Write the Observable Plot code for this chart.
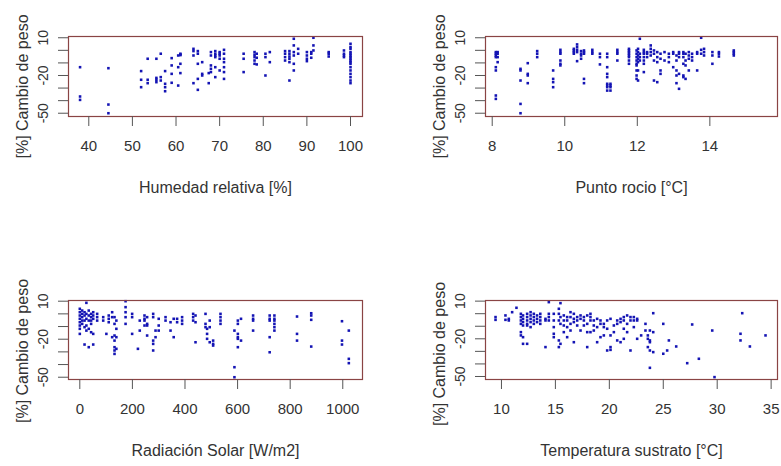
<!DOCTYPE html>
<html>
<head>
<meta charset="utf-8">
<script src="https://cdn.jsdelivr.net/npm/d3@7"></script>
<script src="https://cdn.jsdelivr.net/npm/@observablehq/plot@0.6"></script>
<style>
  html, body { margin: 0; padding: 0; background: #fff; }
  #wrap { position: relative; width: 781px; height: 466px; overflow: hidden; background: #fff; }
  .panel { position: absolute; }
</style>
</head>
<body>
<div id="wrap"></div>
<script>
// ---- shared axis values ----
const yLabel = "[%] Cambio de peso";
const yTicks = [10, 0, -10, -20, -30, -40, -50];
const yTickLabels = [10, -20, -50];

// ---- panel 1: Humedad relativa [%] ----  [x, [y values]]
const humedadLabel = "Humedad relativa [%]";
const humedadTicks = [40, 50, 60, 70, 80, 90, 100];
const humedadGroups = [
  [38, [-13.4, -36.7, -39.4]],
  [44.5, [-14.2, -43.1, -50]],
  [52, [-16.5, -23.4, -29.3]],
  [53.5, [-6.7, -23.4, -26.1]],
  [55.5, [-6.7, -21.9, -23.4, -25.3]],
  [56.5, [-2.7, -21.3, -24.0]],
  [57.5, [-16.5, -26.6, -29.3, -32.5]],
  [59, [-6.2, -12.0, -18.7, -25.8]],
  [60.5, [-4.1, -13.4, -28.0]],
  [61, [-2.7, -3.3, -3.8, -10.7, -18.1]],
  [64, [1.2, -0.6, -4.1, -26.1]],
  [65, [-0.6, -2.7, -10.7, -22.7, -31.4]],
  [66, [-9.4, -18.7, -20.0]],
  [67.5, [-18.1, -26.1]],
  [68, [-1.4, -4.1, -12.0, -14.7, -17.3]],
  [69, [-0.6, -2.7, -4.1, -5.4, -13.4, -21.3]],
  [70, [-1.4, -2.7, -4.1, -6.7, -16.0]],
  [71, [0.4, -2.7, -6.7, -9.4, -13.4, -17.3, -22.7]],
  [75.5, [-2.7, -6.7, -17.3]],
  [78, [-1.4, -3.5, -5.4, -8.1, -10.7]],
  [78.5, [-2.7, -5.9, -11.2]],
  [80.5, [-2.7, -5.4, -20.0]],
  [81.5, [-1.4, -9.4]],
  [85, [-0.6, -2.7, -5.4, -8.1]],
  [86, [-0.6, -2.7, -4.9, -6.7, -9.4, -24.0]],
  [87, [9.2, 3.9, -1.4, -4.1, -10.7, -16.0]],
  [88, [1.2, -2.7]],
  [90, [-1.4, -4.1, -6.7, -8.6]],
  [91, [-1.4, -2.7, -5.9]],
  [91.5, [10, 3.9, -0.1]],
  [95, [-1.4, -2.7, -4.9]],
  [98.5, [-0.1, -2.7, -4.1, -5.4]],
  [100, [5.2, 2.6, 1.2, -1.4, -2.7, -4.1, -5.4, -6.7, -8.1, -9.4, -10.7, -13.4, -16.0, -18.7, -21.3, -24.0, -26.1]]
];

// ---- panel 2: Punto rocio [°C] ----
const rocioLabel = "Punto rocio [°C]";
const rocioTicks = [8, 10, 12, 14];
const rocioGroups = [
  [8.1, [-1.4, -2.7, -4.1, -5.4, -13.4, -16.0, -35.9, -38.6]],
  [8.15, [-1.4, -2.7, -5.4, -9.4]],
  [8.78, [-14.7, -16.0, -24.0, -42.6, -50]],
  [8.98, [-10.2, -18.7, -20.0, -26.1]],
  [9.24, [-0.6, -2.7, -5.4]],
  [9.68, [-16.0, -22.7, -25.3, -29.3]],
  [9.88, [0.4, -1.4, -2.7, -8.1, -10.7, -12.0]],
  [10.25, [1.2, -0.1, -1.4, -2.7]],
  [10.34, [4.7, 2.6, 0.4, -1.4, -8.6]],
  [10.45, [-0.6, -2.7, -4.1, -6.7]],
  [10.53, [-0.1, -1.4, -2.7, -22.7, -26.1]],
  [10.76, [0.4, -1.4, -2.7]],
  [10.97, [-2.7, -5.4, -11.2]],
  [11.17, [-2.7, -5.4, -13.4, -18.7, -21.3, -26.6, -28.0, -29.3, -32.0]],
  [11.26, [-26.6, -28.0, -29.3, -32.0]],
  [11.45, [0.4, -1.4, -2.7, -8.1]],
  [11.77, [1.2, -0.1, -1.4, -2.7, -4.1, -5.4, -8.1, -10.7]],
  [11.98, [-0.1, -2.7, -5.4, -8.1, -10.7, -12.0, -16.0, -20.0, -22.7]],
  [12.02, [1.2, -1.4, -4.1, -6.7, -9.4, -16.0, -24.0]],
  [12.07, [9.2, -2.7, -5.4, -8.1]],
  [12.18, [0.4, -1.4, -2.7, -5.4, -8.1, -10.7, -17.3]],
  [12.27, [-1.4, -2.7, -5.4]],
  [12.37, [3.9, 1.2, -1.4, -4.1]],
  [12.46, [-0.1, -2.7, -8.1, -24.0]],
  [12.55, [-1.4, -5.4, -9.4, -25.3]],
  [12.64, [-2.7, -6.7, -16.0, -18.7]],
  [12.75, [-1.4, -8.1]],
  [12.87, [-2.7, -5.4, -9.4]],
  [12.99, [-1.4, -2.7, -13.4]],
  [13.08, [-4.1, -8.1, -16.0, -20.0, -26.1]],
  [13.15, [-1.4, -2.7, -5.4, -18.7, -30.6]],
  [13.27, [-1.4, -2.7, -5.4, -10.7, -20.0, -21.3]],
  [13.33, [-2.7, -8.1, -12.0, -22.7]],
  [13.42, [-1.4, -4.1, -6.7, -16.0]],
  [13.51, [-2.7, -5.4, -8.1]],
  [13.65, [-1.4, -2.7, -16.0]],
  [13.76, [10, 0.4, -2.7]],
  [13.84, [1.2, -1.4, -4.1]],
  [14.07, [-1.4, -4.1, -10.7]],
  [14.25, [-1.4, -2.7, -4.9]],
  [14.66, [-0.1, -1.4, -2.7, -4.1]]
];

// ---- panel 3: Radiación Solar [W/m2] ----
const radiacionLabel = "Radiación Solar [W/m2]";
const radiacionTicks = [0, 200, 400, 600, 800, 1000];
const radiacionGroups = [
  [0, [4.0, 1.3, -1.3, -3.9, -6.6, -9.2, -11.8, -15.8]],
  [9, [2.6, 0, -2.6, -5.3, -7.9]],
  [18, [1.3, -1.3, -5.3, -10.5, -24.2]],
  [25, [8.7, 0, -3.9, -9.2, -13.2]],
  [34, [2.6, -1.3, -5.3, -11.8, -26.3]],
  [43, [0, -2.6, -5.3, -7.9, -14.5]],
  [51, [1.3, -1.3, -3.9, -15.8, -24.2]],
  [66, [0, -2.6, -5.3]],
  [89, [-2.6, -5.3]],
  [101, [-15.8]],
  [110, [-1.3, -3.9, -6.6]],
  [123, [1.3, -2.6, -18.4]],
  [132, [-2.6, -7.9, -17.1, -21.1, -26.3, -28.9, -31.6]],
  [139, [-5.3, -11.8, -18.4, -27.6]],
  [174, [10, 5.3, 1.3, -2.6, -7.9]],
  [199, [0, -2.6, -15.8]],
  [221, [-27.6]],
  [228, [-5.3, -13.2]],
  [246, [-1.3, -3.9, -5.3, -9.2]],
  [256, [-2.6, -7.9, -9.2, -17.1]],
  [279, [0, -2.6, -21.1, -23.7, -28.9]],
  [288, [-13.2, -18.4]],
  [300, [-3.9, -9.2, -13.2]],
  [326, [-2.6, -5.3]],
  [345, [-6.6, -13.2]],
  [357, [-3.9, -18.4]],
  [370, [-3.9, -6.6]],
  [389, [-2.6, -5.3, -7.9]],
  [431, [0, -2.6, -5.3]],
  [440, [-1.3, -6.6, -22.4]],
  [478, [0, -7.9, -10.5]],
  [484, [-11.8, -15.8, -19.7]],
  [494, [-5.3, -10.5, -22.4]],
  [507, [-21.1, -23.7, -25.0]],
  [535, [0, -2.6, -5.3, -7.9]],
  [588, [-13.2, -42.1, -50]],
  [601, [-5.3, -7.9, -15.8, -18.4, -19.7, -26.3]],
  [613, [-3.9, -21.1]],
  [659, [-1.3, -3.9, -5.3, -13.2]],
  [722, [-1.3, -3.9, -5.3, -18.4, -30.3]],
  [740, [-1.3, -3.9, -5.3, -7.9, -10.5, -13.2]],
  [826, [-2.1, -15.8, -21.1]],
  [880, [0.5, -1.3, -4.7, -25.8]],
  [997, [-5.8, -21.1, -24.2]],
  [1023, [-13.2, -35.5, -38.9]]
];

// ---- panel 4: Temperatura sustrato [°C] ----
const sustratoLabel = "Temperatura sustrato [°C]";
const sustratoTicks = [10, 15, 20, 25, 30, 35];
const sustratoGroups = [
  [9.45, [-2.7, -4.9]],
  [10.37, [-1.4, -4.9]],
  [10.68, [-4.1, -5.4]],
  [10.99, [1.2]],
  [11.39, [4.7]],
  [11.8, [-0.1, -2.7, -5.4, -8.1, -14.7, -17.3]],
  [12.0, [-1.4, -4.1, -6.7, -9.4, -18.7, -24.0]],
  [12.38, [-0.1, -2.7, -5.4, -8.1, -9.4, -24.0]],
  [12.7, [1.2, -1.4, -4.1, -6.7, -10.7]],
  [13.0, [-0.1, -2.7, -5.4, -8.1]],
  [13.3, [-1.4, -4.1, -6.7]],
  [13.6, [-0.1, -2.7, -5.4, -8.1]],
  [14.08, [-4.1, -5.4, -26.6]],
  [14.39, [9.2, -0.1, -2.7, -5.4]],
  [14.85, [-0.1, -5.4, -10.7, -16.0, -18.7]],
  [15.32, [3.9, -0.1, -5.4, -21.3, -26.6]],
  [15.47, [8.4, -2.7, -8.1, -24.0]],
  [15.78, [-1.4, -5.4, -9.4, -14.7]],
  [16.09, [-2.7, -5.4, -10.7, -18.7]],
  [16.4, [1.2, -2.7, -8.1, -13.4]],
  [16.71, [-0.1, -4.1, -6.7, -22.7]],
  [17.02, [-2.7, -5.4, -9.4]],
  [17.33, [-1.4, -4.1, -13.4]],
  [17.64, [-2.7, -5.4, -9.4]],
  [17.95, [-1.4, -8.1, -14.7, -26.6]],
  [18.25, [-0.1, -2.7, -5.4, -14.7]],
  [18.56, [-5.4, -9.4, -13.4]],
  [18.87, [-4.1, -10.7, -22.7]],
  [19.18, [-5.4, -8.1, -18.7]],
  [19.49, [-8.1, -10.7, -17.3]],
  [19.8, [-5.4, -12.0, -29.3]],
  [20.11, [-4.1, -17.3, -26.6, -28.8]],
  [20.42, [-9.4, -14.7]],
  [20.73, [-5.4, -8.1, -21.3]],
  [21.04, [-4.1, -6.7, -22.7]],
  [21.34, [-2.7, -5.4, -12.0, -20.0]],
  [21.65, [-1.4, -8.1, -14.7]],
  [21.96, [-2.7, -5.4, -29.3]],
  [22.27, [-2.7, -5.4, -10.7]],
  [22.58, [-4.1, -5.4, -20.0]],
  [22.95, [-17.3]],
  [23.35, [-8.1, -13.4]],
  [23.57, [-17.3, -20.0, -26.6]],
  [23.76, [-13.4, -21.3, -22.7, -29.3, -43.1]],
  [24.07, [0.4, -14.7, -30.6]],
  [25.0, [-8.1, -31.9]],
  [25.36, [-29.3]],
  [25.52, [-21.3]],
  [26.2, [-26.1]],
  [27.22, [-39.4]],
  [27.68, [-8.6]],
  [28.3, [-35.9]],
  [29.54, [-13.4]],
  [29.75, [-50.5]],
  [32.16, [-16.0, -21.3]],
  [32.32, [0.4]],
  [33.03, [-26.1]],
  [34.48, [-17.3]]
];

// ---- drawing ----
const flatten = groups => groups.flatMap(([x, ys]) => ys.map(y => ({x, y})));
const FONT = "'Liberation Sans', Arial, Helvetica, sans-serif";
const TEXT = "#333";

function panel({groups, xLabel, xTicks, xDomain, yDomain, ylabDy, width, height, left, right, top, bottom}) {
  return Plot.plot({
    width, height,
    marginLeft: left, marginRight: right, marginTop: top, marginBottom: bottom,
    x: {domain: xDomain},
    y: {domain: yDomain},
    style: {fontFamily: FONT, color: TEXT, background: "white", overflow: "visible"},
    marks: [
      Plot.dot(flatten(groups), {x: "x", y: "y", symbol: "square", r: 1.45, fill: "#1414b4", stroke: "none"}),
      Plot.frame({stroke: "#8a4444", strokeWidth: 1.2}),
      Plot.axisX({ticks: xTicks, tickSize: 10, tickPadding: 14, fontSize: 15, label: null,
                  stroke: "#555", tickFormat: d => String(d)}),
      Plot.axisY({ticks: yTicks, tickSize: 10, tickPadding: 11, tickRotate: -90, fontSize: 14, label: null,
                  stroke: "#555", tickFormat: d => yTickLabels.includes(d) ? String(d) : ""}),
      Plot.text([yLabel], {frameAnchor: "left", text: d => d, rotate: -90, textAnchor: "middle", lineAnchor: "middle",
                           dx: -46, dy: ylabDy, fontSize: 16, fill: TEXT}),
      Plot.text([xLabel], {frameAnchor: "bottom", text: d => d, textAnchor: "middle", lineAnchor: "middle",
                           dy: 71, fontSize: 16, fill: TEXT})
    ]
  });
}

const specs = [
  {pos: [0, 0], groups: humedadGroups, xLabel: humedadLabel, xTicks: humedadTicks,
   xDomain: [35.35, 102.75], yDomain: [-52.6, 11.0], ylabDy: 10,
   width: 390, height: 264, left: 68, right: 28, top: 36, bottom: 148},
  {pos: [390, 0], groups: rocioGroups, xLabel: rocioLabel, xTicks: rocioTicks,
   xDomain: [7.815, 15.865], yDomain: [-52.6, 11.0], ylabDy: 10,
   width: 391, height: 264, left: 95, right: 4, top: 36, bottom: 148},
  {pos: [0, 264], groups: radiacionGroups, xLabel: radiacionLabel, xTicks: radiacionTicks,
   xDomain: [-43, 1075], yDomain: [-51.8, 10.55], ylabDy: 11,
   width: 390, height: 202, left: 68, right: 28, top: 36, bottom: 87},
  {pos: [390, 264], groups: sustratoGroups, xLabel: sustratoLabel, xTicks: sustratoTicks,
   xDomain: [8.52, 35.59], yDomain: [-52.4, 10.5], ylabDy: 14,
   width: 391, height: 202, left: 95, right: 4, top: 36, bottom: 87}
];

const wrap = document.getElementById("wrap");
for (const s of specs) {
  const div = document.createElement("div");
  div.className = "panel";
  div.style.left = s.pos[0] + "px";
  div.style.top = s.pos[1] + "px";
  div.appendChild(panel(s));
  wrap.appendChild(div);
}
</script>
</body>
</html>
